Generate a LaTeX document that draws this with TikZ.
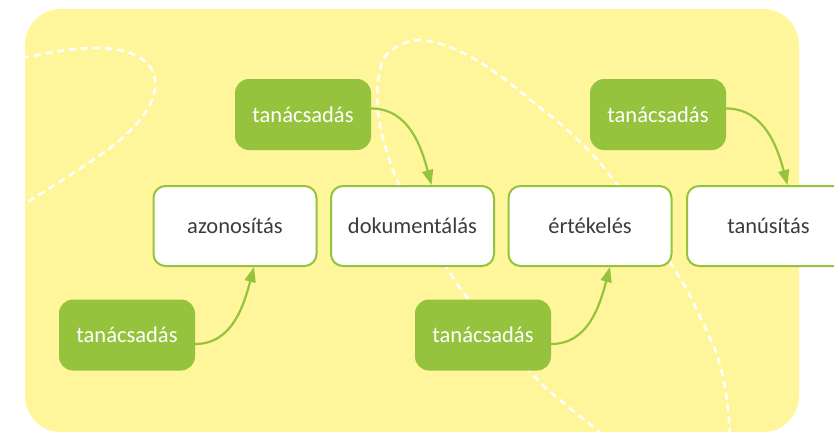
\documentclass[tikz,border=0pt]{standalone}
\usepackage{fontspec}
\setmainfont{Carlito}
\usetikzlibrary{arrows.meta,calc}
\definecolor{bgyellow}{RGB}{255,245,155}
\definecolor{lgreen}{RGB}{150,195,62}
\definecolor{txtgray}{RGB}{60,60,60}
\tikzset{
  stage/.style={draw=lgreen, line width=2pt, fill=white, rounded corners=12pt,
    minimum width=163pt, minimum height=80pt, inner sep=0pt,
    text=txtgray, font=\fontsize{22.5}{26}\selectfont},
  advice/.style={fill=lgreen, rounded corners=14pt, minimum width=136pt,
    minimum height=71pt, inner sep=0pt, text=white,
    font=\fontsize{22.5}{26}\selectfont},
  arr/.style={draw=lgreen, line width=2.2pt, -{Triangle[length=15pt,width=11pt]}},
  wdash/.style={draw=white, line width=2.6pt, dash pattern=on 7pt off 5pt}
}
\begin{document}
\begin{tikzpicture}[x=1pt,y=-1pt]
\useasboundingbox (0,0) rectangle (834,432);
\path[fill=bgyellow, rounded corners=36pt] (25,9) rectangle (799,432);
\begin{scope}
\clip[rounded corners=36pt] (25,9) rectangle (799,432);
\draw[wdash] plot[smooth, tension=0.6] coordinates {
  (10,59) (26,57) (67,50) (100,48) (127,52) (147,63) (155,80) (152,100)
  (140,120) (120,140) (93,160) (67,177) (26,203) (10,212)};
\draw[wdash] plot[smooth, tension=0.55] coordinates {
  (612,442) (597,430) (560,400) (533,375) (467,297) (447,268) (421,224)
  (397,180) (387,152) (380,125) (377,92) (383,60) (398,46) (420,40)
  (447,46) (473,58) (503,78) (533,102) (563,126) (593,155) (615,182)
  (645,224) (673,267) (687,290) (703,323) (717,355) (725,387) (729,420) (730,445)};
\end{scope}
\node[stage] (a) at (235,226) {azonosítás};
\node[stage] (d) at (412.5,226) {dokumentálás};
\node[stage] (e) at (590,226) {értékelés};
\node[stage] (t) at (768.5,226) {tanúsítás};
\node[advice] (g1) at (303,114.5) {tanácsadás};
\node[advice] (g2) at (658,114.5) {tanácsadás};
\node[advice] (g3) at (127,335) {tanácsadás};
\node[advice] (g4) at (483,335) {tanácsadás};
\draw[arr] ([yshift=6pt]g1.east) to[out=0,in=105] ([xshift=19pt]d.north);
\draw[arr] ([yshift=6pt]g2.east) to[out=0,in=105] ([xshift=19pt]t.north);
\draw[arr] ([yshift=-9pt]g3.east) to[out=0,in=-105] ([xshift=19pt]a.south);
\draw[arr] ([yshift=-9pt]g4.east) to[out=0,in=-105] ([xshift=20pt]e.south);
\end{tikzpicture}
\end{document}
